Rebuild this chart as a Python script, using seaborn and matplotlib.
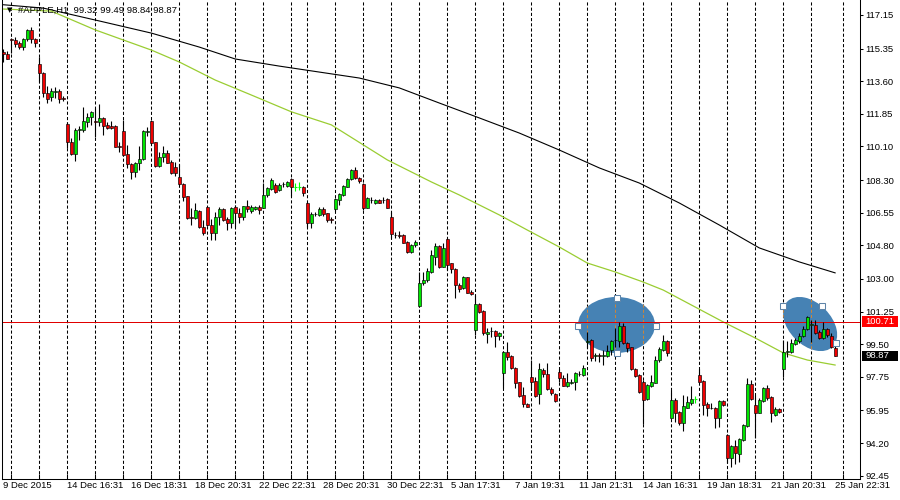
import matplotlib
matplotlib.use("Agg")
import numpy as np
import pandas as pd
import matplotlib.pyplot as plt
import seaborn as sns
from matplotlib.patches import Ellipse, Rectangle
from matplotlib.transforms import IdentityTransform, blended_transform_factory

symbol = "#APPLE,H1"

opens = [
    115.17, 115.07, 115.85, 115.79, 115.66, 115.45, 115.85, 116.33, 115.85, 114.51,
    114.06, 112.97, 112.74, 113.00, 113.07, 112.68, 111.30, 110.32, 109.68, 110.97,
    110.97, 111.43, 111.66, 111.47, 111.43, 111.61, 111.25, 111.21, 111.20, 110.12,
    110.93, 109.68, 109.16, 108.75, 109.23, 109.41, 110.86, 111.47, 110.32, 109.05,
    109.52, 109.77, 109.28, 109.02, 108.48, 108.09, 107.44, 106.32, 106.28, 106.64,
    105.78, 106.84, 105.89, 105.44, 106.34, 106.75, 106.19, 105.98, 106.87, 106.52,
    106.30, 106.89, 106.66, 106.75, 106.84, 106.82, 107.50, 107.80, 108.03, 107.77,
    108.09, 107.98, 108.34, 107.94, 107.94, 107.94, 107.05, 105.98, 106.46, 106.42,
    106.73, 106.52, 106.21, 106.73, 107.23, 107.50, 107.94, 108.34, 108.84, 108.39,
    108.09, 106.82, 107.21, 107.09, 107.23, 107.21, 107.27, 106.30, 105.38, 105.34,
    105.35, 104.99, 104.43, 104.82, 101.55, 102.76, 102.94, 103.39, 104.19, 104.76,
    103.65, 105.12, 103.84, 103.51, 102.67, 102.50, 103.09, 102.31, 100.26, 101.65,
    101.29, 100.03, 100.19, 100.21, 99.94, 97.97, 99.06, 98.88, 98.24, 97.45,
    96.77, 96.31, 97.72, 97.54, 96.81, 98.11, 97.90, 97.08, 96.83, 97.99,
    97.67, 97.27, 97.44, 97.45, 97.88, 97.85, 99.62, 99.72, 98.87, 98.90,
    98.87, 98.88, 99.19, 99.71, 99.67, 100.49, 99.58, 99.33, 98.15, 97.85,
    97.49, 96.56, 97.27, 97.43, 98.65, 99.19, 99.67, 95.56, 96.51, 95.86,
    95.26, 96.09, 96.33, 96.56, 97.85, 97.52, 96.28, 96.09, 96.09, 95.52,
    96.45, 94.63, 93.41, 94.04, 93.59, 94.36, 95.13, 97.35, 96.24, 95.83,
    96.47, 97.13, 96.68, 95.70, 96.01, 98.15, 99.08, 99.10, 99.51, 99.69,
    99.94, 100.30, 100.55, 100.53, 100.17, 99.81, 100.30, 99.95, 99.32,
]
highs = [
    115.31, 115.24, 115.90, 115.99, 115.77, 115.90, 116.38, 116.52, 115.90, 114.91,
    114.11, 113.34, 113.22, 113.30, 113.17, 112.82, 111.43, 110.54, 111.08, 111.20,
    112.20, 111.91, 111.98, 112.15, 112.38, 111.66, 111.43, 111.47, 111.25, 110.36,
    111.52, 110.18, 109.23, 109.28, 110.12, 110.98, 111.13, 111.52, 110.36, 109.82,
    110.12, 109.91, 109.38, 109.28, 109.16, 108.12, 107.46, 106.78, 107.05, 106.69,
    106.16, 106.87, 106.19, 106.60, 106.87, 106.79, 106.33, 106.87, 106.96, 106.79,
    106.91, 107.23, 106.96, 106.91, 106.96, 108.16, 107.94, 108.39, 108.12, 108.12,
    108.21, 108.25, 108.39, 108.16, 108.19, 107.98, 107.14, 106.60, 106.60, 106.84,
    106.87, 106.55, 106.33, 107.32, 107.59, 108.03, 108.39, 108.88, 108.98, 108.48,
    108.12, 107.41, 107.37, 107.28, 107.27, 107.37, 107.32, 106.60, 105.53, 105.58,
    105.40, 105.05, 104.87, 105.09, 103.39, 103.39, 103.57, 104.55, 104.91, 104.82,
    104.91, 105.18, 103.87, 103.57, 102.76, 103.16, 103.12, 102.40, 102.14, 101.69,
    101.33, 100.35, 100.44, 100.26, 100.17, 99.15, 99.63, 98.92, 98.29, 97.49,
    97.22, 96.36, 98.65, 97.76, 98.47, 98.20, 98.51, 97.22, 96.90, 98.15,
    97.85, 97.97, 97.62, 98.02, 98.08, 98.38, 100.17, 99.76, 99.01, 99.01,
    99.19, 99.45, 99.72, 100.35, 100.70, 100.62, 99.63, 99.36, 98.20, 97.88,
    97.58, 97.35, 97.85, 98.86, 99.36, 99.99, 99.72, 97.04, 96.60, 95.93,
    96.77, 96.72, 97.26, 96.72, 98.17, 97.58, 96.41, 96.33, 96.15, 96.51,
    96.51, 94.67, 94.09, 94.36, 94.45, 95.20, 97.67, 97.58, 96.77, 96.60,
    97.19, 97.31, 96.72, 96.12, 96.06, 99.72, 99.67, 99.76, 99.85, 100.08,
    100.47, 101.01, 100.80, 100.80, 100.26, 100.70, 100.38, 100.08, 99.49,
]
lows = [
    114.65, 114.79, 115.10, 115.45, 115.31, 115.27, 115.77, 115.63, 115.45, 113.57,
    112.77, 112.42, 112.55, 112.68, 112.42, 112.54, 110.00, 109.64, 109.34, 110.46,
    110.89, 111.16, 111.26, 110.62, 111.20, 110.72, 111.04, 111.02, 110.06, 109.82,
    109.59, 108.93, 108.34, 108.48, 108.84, 109.38, 110.66, 110.27, 109.02, 109.02,
    109.28, 109.20, 108.62, 108.52, 108.03, 107.18, 106.21, 105.89, 106.19, 105.71,
    105.35, 105.84, 105.09, 105.09, 105.89, 106.12, 105.62, 105.74, 105.80, 106.01,
    106.16, 106.60, 106.55, 106.69, 106.48, 106.79, 107.41, 107.77, 107.62, 107.71,
    107.94, 107.93, 107.44, 107.73, 107.77, 107.44, 105.80, 105.71, 106.37, 106.37,
    106.37, 106.07, 106.01, 106.66, 106.96, 107.44, 107.91, 108.30, 108.34, 108.16,
    106.69, 106.79, 107.09, 107.02, 107.05, 107.09, 106.79, 105.18, 105.18, 105.18,
    104.91, 104.37, 104.40, 104.73, 101.51, 102.67, 102.85, 103.33, 103.74, 103.57,
    103.62, 103.48, 103.30, 101.96, 102.31, 102.44, 102.23, 102.14, 99.99, 101.15,
    99.99, 99.55, 99.90, 99.36, 99.72, 97.13, 98.65, 98.15, 97.13, 96.68,
    96.11, 96.11, 97.04, 96.68, 96.28, 97.76, 97.04, 96.77, 96.41, 97.49,
    97.26, 97.22, 97.36, 97.04, 97.79, 97.81, 99.28, 98.61, 98.60, 98.56,
    98.38, 98.83, 98.92, 99.36, 99.36, 99.51, 99.10, 98.11, 97.76, 96.86,
    95.22, 96.51, 97.22, 97.40, 98.56, 99.15, 98.87, 95.52, 95.34, 95.17,
    94.86, 96.06, 96.24, 96.36, 97.45, 95.70, 95.65, 96.01, 94.99, 95.04,
    96.18, 93.14, 92.90, 93.07, 93.20, 94.32, 95.07, 96.51, 94.45, 95.79,
    96.42, 96.51, 95.34, 95.65, 95.82, 97.76, 98.83, 99.04, 99.45, 99.58,
    99.87, 100.26, 99.63, 100.05, 99.76, 99.76, 99.90, 99.28, 98.84,
]
closes = [
    115.04, 114.81, 115.79, 115.61, 115.45, 115.85, 116.33, 115.85, 115.63, 114.02,
    112.95, 112.66, 113.06, 113.07, 112.66, 112.65, 110.32, 109.68, 110.98, 111.02,
    111.47, 111.66, 111.93, 111.41, 111.61, 111.20, 111.08, 111.08, 110.09, 110.06,
    109.64, 109.14, 108.75, 109.20, 109.41, 110.93, 110.93, 110.30, 109.05, 109.55,
    109.77, 109.23, 108.69, 108.66, 108.07, 107.41, 106.25, 106.25, 106.69, 105.77,
    105.44, 105.89, 105.44, 106.34, 106.73, 106.16, 105.98, 106.79, 106.52, 106.30,
    106.89, 106.73, 106.84, 106.84, 106.69, 107.50, 107.86, 108.30, 107.68, 108.03,
    108.07, 108.18, 107.91, 107.94, 107.94, 107.59, 105.98, 106.48, 106.50, 106.75,
    106.48, 106.16, 106.18, 107.27, 107.54, 107.98, 108.34, 108.84, 108.39, 108.26,
    106.79, 107.32, 107.25, 107.23, 107.09, 107.25, 106.82, 105.41, 105.35, 105.32,
    104.94, 104.43, 104.82, 104.99, 102.76, 102.94, 103.40, 104.28, 104.76, 103.62,
    104.64, 103.74, 103.51, 102.67, 102.46, 103.09, 102.26, 102.17, 101.65, 101.24,
    100.08, 100.17, 100.22, 99.94, 100.08, 99.06, 98.83, 98.20, 97.43, 96.74,
    96.27, 96.15, 97.49, 96.74, 98.15, 97.88, 97.08, 96.87, 96.45, 97.67,
    97.27, 97.45, 97.47, 97.97, 97.92, 98.24, 99.65, 98.77, 98.90, 98.87,
    98.90, 99.15, 99.67, 99.74, 100.47, 99.58, 99.31, 98.15, 97.79, 96.95,
    96.51, 97.31, 97.49, 98.65, 99.22, 99.67, 99.01, 96.51, 95.83, 95.26,
    96.18, 96.38, 96.56, 96.56, 97.49, 96.24, 96.06, 96.06, 95.52, 96.45,
    96.24, 93.41, 94.04, 93.65, 94.41, 95.17, 97.35, 96.54, 95.83, 96.51,
    97.13, 96.63, 95.79, 96.02, 95.88, 99.06, 99.11, 99.58, 99.72, 99.94,
    100.31, 100.94, 100.58, 100.12, 99.81, 100.30, 99.99, 99.33, 98.87,
]

date_labels = ["9 Dec 2015", "14 Dec 16:31", "16 Dec 18:31", "18 Dec 20:31",
               "22 Dec 22:31", "28 Dec 20:31", "30 Dec 22:31", "5 Jan 17:31",
               "7 Jan 19:31", "11 Jan 21:31", "14 Jan 16:31", "19 Jan 18:31",
               "21 Jan 20:31", "25 Jan 22:31"]
label_every = 16
grid_bars = [2, 9, 16, 23, 30, 37, 44, 51, 58, 65, 72, 76, 83, 90, 97, 104, 111,
             118, 125, 132, 139, 146, 153, 160, 167, 174, 181, 188, 195, 202, 210]
price_ticks = [117.15, 115.35, 113.60, 111.85, 110.10, 108.30, 106.55, 104.80,
               103.00, 101.25, 99.50, 97.75, 95.95, 94.20, 92.45]
level_price = 100.71

slow_ma_bar = [0, 10, 24, 37, 49, 58, 69, 79, 89, 99, 109, 119, 129, 139, 149,
               159, 169, 179, 189, 199, 208]
slow_ma = [117.70, 117.52, 116.83, 116.18, 115.43, 114.79, 114.41, 114.09, 113.77,
           113.24, 112.43, 111.63, 110.82, 109.91, 108.95, 108.14, 107.07, 105.89,
           104.66, 103.91, 103.32]
fast_ma_bar = [0, 12, 23, 37, 44, 53, 62, 72, 82, 96, 107, 114, 124, 131, 139, 146,
               153, 160, 165, 180, 188, 195, 201, 208]
fast_ma = [117.47, 117.36, 116.35, 115.27, 114.63, 113.66, 112.86, 111.96, 111.26,
           109.38, 108.20, 107.50, 106.43, 105.62, 104.71, 103.85, 103.37, 102.83,
           102.40, 100.69, 99.83, 99.03, 98.65, 98.38]

# drawn ellipse objects: centre (bar, price)
ellipse_centres = [(153.3, 100.53), (201.7, 100.58)]
ellipse_handles = [
    [(153.5, 101.98), (143.75, 100.46), (163.1, 100.49), (153.5, 99.01)],
    [(195.0, 101.55), (204.75, 101.55), (208.1, 99.55)],
]

sns.set_theme(style="white")
plt.rcParams["font.family"] = ["Liberation Sans", "DejaVu Sans"]
FS = 6.8
GREEN = "#00e600"
RED = "#f00000"
STEEL = "#4682b4"

fig = plt.figure(figsize=(9, 5), dpi=100, facecolor="white")
ax = fig.add_axes([2 / 900, 21 / 500, 858 / 900, 479 / 500])
ax.set_facecolor("white")
XLIM = (-0.325, 214.175)
YLIM = (92.27, 117.954)
ax.set_xlim(*XLIM)
ax.set_ylim(*YLIM)
ax.grid(False)

df = pd.DataFrame({"open": opens, "high": highs, "low": lows, "close": closes})
df["bar"] = np.arange(len(df))

DASH = (0, (3, 2))
for b in grid_bars:
    ax.axvline(b, color="black", lw=0.75, ls=DASH, zorder=0.5)

# ellipses (drawn in screen pixels)
ell_shapes = [(77, 56, 0), (64, 42, -45)]
for cen, (w, h, ang) in zip(ellipse_centres, ell_shapes):
    xy = ax.transData.transform(cen)
    e = Ellipse(xy, w, h, angle=ang, transform=IdentityTransform(),
                facecolor=STEEL, edgecolor="none", zorder=1)
    ax.add_patch(e)
    for b in grid_bars:
        ln = ax.axvline(b, color="#c8843c", lw=0.75, ls=DASH, zorder=1.1)
        ln.set_clip_path(e)

# moving averages
sns.lineplot(x=slow_ma_bar, y=slow_ma, ax=ax, color="black", lw=0.8,
             estimator=None, zorder=2)
sns.lineplot(x=fast_ma_bar, y=fast_ma, ax=ax, color="#9acd32", lw=0.9,
             estimator=None, zorder=2)

ax.axhline(level_price, color="#e00000", lw=0.72, zorder=2.5)

# candles
o = df["open"].values
c = df["close"].values
hi = df["high"].values
lo = df["low"].values
bars = df["bar"].values
doji = np.isclose(o, c)
up = c > o
wick_cols = np.where(doji, "#00ff00", "black")
ax.vlines(bars, lo, hi, colors=wick_cols, lw=0.8, zorder=3)
body = ~doji
ax.bar(bars[body], np.abs(c - o)[body], bottom=np.minimum(o, c)[body], width=0.68,
       color=np.where(up, GREEN, RED)[body], edgecolor="black", linewidth=0.45,
       zorder=4)
ax.hlines(o[doji], bars[doji] - 0.35, bars[doji] + 0.35, colors="#00ff00", lw=0.8,
          zorder=4)

# handles of the selected objects
for pts in ellipse_handles:
    for p in pts:
        xy = ax.transData.transform(p)
        ax.add_patch(Rectangle((xy[0] - 3, xy[1] - 3), 6, 6,
                               transform=IdentityTransform(), facecolor="white",
                               edgecolor="#5f84a8", lw=0.75, zorder=6))

# spines / ticks
for s in ["left", "bottom", "right"]:
    ax.spines[s].set_visible(True)
    ax.spines[s].set_color("black")
    ax.spines[s].set_linewidth(0.75)
ax.spines["top"].set_visible(False)

ax.set_xticks(grid_bars)
ax.set_xticklabels([])
ax.tick_params(axis="x", bottom=True, direction="in", length=3.5, width=0.75,
               color="black")
ax.yaxis.tick_right()
ax.set_yticks(price_ticks)
ax.set_yticklabels([f"{p:.2f}" for p in price_ticks])
ax.tick_params(axis="y", right=True, left=False, direction="out", length=2.2,
               width=0.75, pad=1.5, labelsize=FS, labelcolor="black", color="black")
ax.set_xlabel("")
ax.set_ylabel("")

trans = blended_transform_factory(ax.transData, ax.transAxes)
for k, lab in enumerate(date_labels):
    ax.text(k * label_every - 0.1, -2.5 / 479, lab, transform=trans, ha="left",
            va="top", fontsize=FS, color="black", clip_on=False)

# title
fig.text(6.5 / 900, 1 - 10.5 / 500, "▼", fontsize=5, family="DejaVu Sans",
         va="center", ha="left", color="black")
fig.text(18 / 900, 1 - 10.5 / 500,
         f"{symbol}  {opens[-1]:.2f} {highs[-1]:.2f} {lows[-1]:.2f} {closes[-1]:.2f}",
         fontsize=FS, va="center", ha="left", color="black")


def price_box(price, fc):
    yd = ax.transData.transform((0, price))[1]
    fig.add_artist(Rectangle((862, yd - 5.2), 36, 10.4, transform=IdentityTransform(),
                             facecolor=fc, edgecolor="none", zorder=5))
    fig.text(865.5 / 900, yd / 500, f"{price:.2f}", color="white", fontsize=FS,
             va="center", ha="left", zorder=6)


price_box(level_price, "#ff0000")
price_box(closes[-1], "black")

ax.set_xlim(*XLIM)
ax.set_ylim(*YLIM)
fig.savefig("out.png", dpi=100, facecolor="white")
